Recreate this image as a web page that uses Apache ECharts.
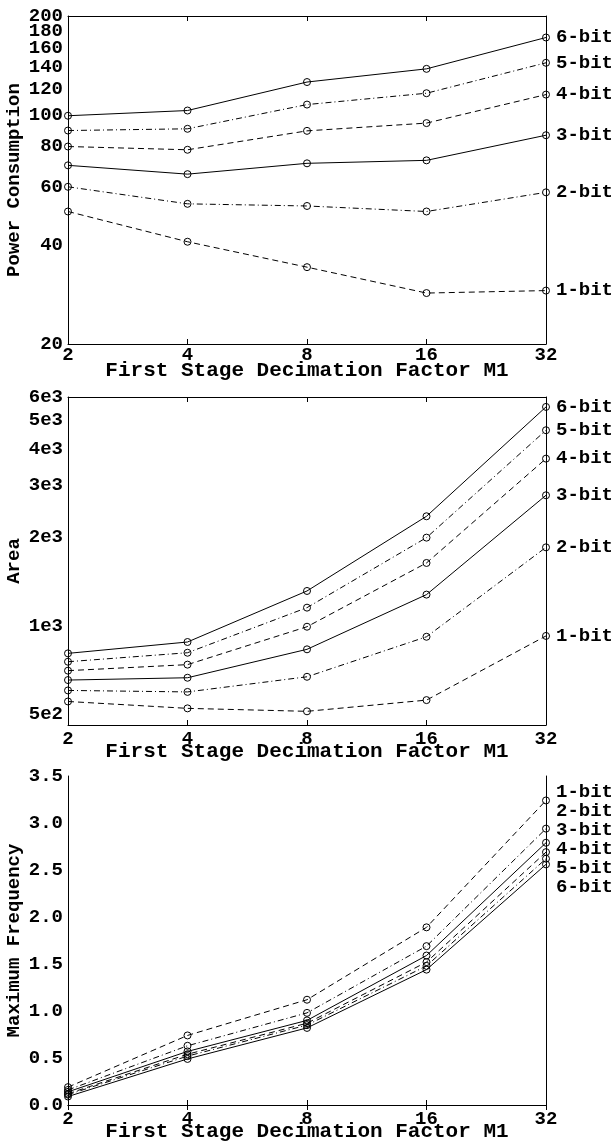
<!DOCTYPE html>
<html>
<head>
<meta charset="utf-8">
<script src="https://cdn.jsdelivr.net/npm/echarts@6/dist/echarts.min.js"></script>
<style>
html,body{margin:0;padding:0;background:#fff}
#chart{width:611px;height:1148px}
</style>
</head>
<body>
<div id="chart"></div>
<script>
// decimation factors on the x axis (evenly spaced, log2)
const factors = ['2', '4', '8', '16', '32'];
const bitNames = ['1-bit', '2-bit', '3-bit', '4-bit', '5-bit', '6-bit'];

// one row per bit width, one column per factor
const powerValues = [
  [50.7, 41.0, 34.3, 28.6, 29.1],
  [60.3, 53.5, 52.7, 50.7, 58.0],
  [70.1, 65.9, 71.1, 72.6, 86.6],
  [80.0, 78.2, 89.3, 94.3, 115.2],
  [89.5, 90.6, 107.4, 116.3, 144],
  [99.3, 103, 125.8, 138, 172]
];
const areaValues = [
  [553, 524, 512, 559, 924],
  [603, 596, 671, 918, 1849],
  [654, 666, 832, 1277, 2779],
  [704, 738, 993, 1636, 3703],
  [755, 810, 1153, 1995, 4625],
  [806, 881, 1314, 2358, 5552]
];
const freqValues = [
  [0.19, 0.74, 1.12, 1.89, 3.24],
  [0.16, 0.63, 0.98, 1.69, 2.94],
  [0.14, 0.57, 0.90, 1.59, 2.79],
  [0.12, 0.54, 0.87, 1.52, 2.69],
  [0.11, 0.52, 0.85, 1.48, 2.62],
  [0.09, 0.49, 0.82, 1.44, 2.56]
];

// tick labels
const powerTicks = [20, 40, 60, 80, 100, 120, 140, 160, 180, 200];
const areaTicks = [500, 1000, 2000, 3000, 4000, 5000, 6000];
const areaTickLabels = ['5e2', '1e3', '2e3', '3e3', '4e3', '5e3', '6e3'];

const chart = echarts.init(document.getElementById('chart'));

const FONT = 'Liberation Mono';
const txt = (size) => ({fontFamily: FONT, fontWeight: 'bold', fontSize: size, color: '#000'});
const lineTypes = [[6, 4], [6, 3, 1, 3], 'solid', [6, 4], [6, 3, 1, 3], 'solid'];
const black = {lineStyle: {color: '#000', width: 1}};

const grids = [
  {left: 68, right: 65, top: 16, height: 328, outerBoundsMode: 'none', containLabel: false},
  {left: 68, right: 65, top: 397, height: 328, outerBoundsMode: 'none', containLabel: false},
  {left: 68, right: 65, top: 776, height: 329, outerBoundsMode: 'none', containLabel: false}
];

const xAxes = [];
const yAxes = [];
grids.forEach((g, i) => {
  xAxes.push({
    gridIndex: i, type: 'category', data: factors, boundaryGap: false,
    name: 'First Stage Decimation Factor M1', nameLocation: 'middle', nameGap: 16,
    nameMoveOverlap: false,
    nameTextStyle: txt(21),
    axisLine: black, axisTick: {inside: true, length: 5, lineStyle: {color: '#000'}},
    axisLabel: Object.assign({margin: i === 0 ? 2 : 5}, txt(19)),
    splitLine: {show: false}
  });
  xAxes.push({
    gridIndex: i, type: 'category', data: factors, boundaryGap: false, position: 'top',
    axisLine: black, axisTick: {inside: true, length: 5, lineStyle: {color: '#000'}},
    axisLabel: {show: false}, splitLine: {show: false}
  });
});

function yPair(i, base, name) {
  const left = Object.assign({
    gridIndex: i, name: name, nameLocation: 'middle', nameGap: 44,
    nameMoveOverlap: false,
    nameTextStyle: txt(19),
    axisLine: Object.assign({show: true}, black),
    splitLine: {show: false}
  }, base);
  left.axisTick = Object.assign({inside: true, length: 5, lineStyle: {color: '#000'}}, base.axisTick || {});
  left.axisLabel = Object.assign({margin: 5, lineHeight: 13, showMinLabel: true, showMaxLabel: true},
    txt(19), base.axisLabel || {});
  const right = Object.assign({}, left, {position: 'right', name: '',
    axisLabel: Object.assign({}, left.axisLabel, {show: false})});
  yAxes.push(left, right);
  return left;
}

// power labels near the top are packed tightly; ECharts drops a neighbour of an
// overlapping end label, so alternate labels are split over two axes
const powerEven = powerTicks.filter((v, k) => k % 2 === 0);
const powerOdd = powerTicks.filter((v, k) => k % 2 === 1);
const powerLeft = yPair(0, {
  type: 'log', min: 20, max: 200.001,
  axisTick: {customValues: powerTicks},
  axisLabel: {customValues: powerEven, formatter: v => String(Math.round(v))}
}, 'Power Consumption');

yPair(1, {
  type: 'log', min: 460, max: 6000.01,
  axisTick: {customValues: areaTicks},
  axisLabel: {customValues: areaTicks,
    formatter: v => areaTickLabels[areaTicks.indexOf(Math.round(v))] || ''}
}, 'Area');

yPair(2, {
  type: 'value', min: 0, max: 3.5, interval: 0.5,
  axisLabel: {formatter: v => v.toFixed(1)}
}, 'Maximum Frequency');

yAxes.push({
  gridIndex: 0, type: 'log', min: 20, max: 200.001, position: 'left',
  axisLine: {show: false}, axisTick: {show: false}, splitLine: {show: false},
  axisLabel: Object.assign({}, powerLeft.axisLabel, {customValues: powerOdd})
});

const series = [];
[powerValues, areaValues, freqValues].forEach((rows, p) => {
  rows.forEach((vals, b) => {
    series.push({
      type: 'line', name: bitNames[b],
      xAxisIndex: p * 2, yAxisIndex: p * 2,
      data: vals, clip: false,
      symbol: 'circle', symbolSize: 7,
      itemStyle: {color: 'transparent', borderColor: '#000', borderWidth: 1},
      lineStyle: {color: '#000', width: 1, type: lineTypes[b]},
      endLabel: p < 2 ? Object.assign({show: true, formatter: '{a}', distance: 10}, txt(19)) : {show: false},
      emphasis: {disabled: true}
    });
  });
});

chart.setOption({
  animation: false,
  backgroundColor: '#fff',
  grid: grids,
  xAxis: xAxes,
  yAxis: yAxes,
  legend: {
    data: bitNames, orient: 'vertical', left: 545, top: 778,
    itemWidth: 0, itemHeight: 0, itemGap: 0, icon: 'rect',
    textStyle: Object.assign({lineHeight: 18.5, padding: [0, 0, 0, 0]}, txt(19)),
    selectedMode: false
  },
  series: series
});
</script>
</body>
</html>
